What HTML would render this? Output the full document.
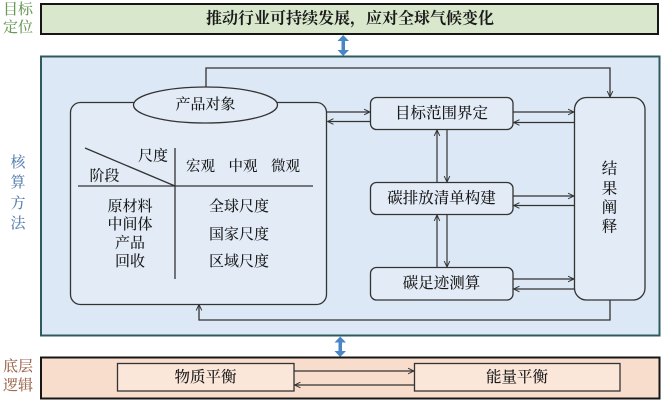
<!DOCTYPE html>
<html><head><meta charset="utf-8"><style>
html,body{margin:0;padding:0;background:#fff;}
svg{display:block;}
text{font-family:"Liberation Serif","Noto Serif CJK SC","Noto Serif CJK JP","Noto Sans CJK SC",serif;dominant-baseline:central;text-anchor:middle;fill:#1a1a1a;font-weight:500;}
</style></head><body>
<svg width="663" height="403" viewBox="0 0 663 403" xmlns="http://www.w3.org/2000/svg">
<defs>
<marker id="a" viewBox="0 0 10 10" refX="9.5" refY="5" markerWidth="7" markerHeight="7" orient="auto" markerUnits="userSpaceOnUse">
<path d="M1,1 L9.5,5 L1,9" fill="none" stroke="#333" stroke-width="1.4"/>
</marker>
</defs>
<!-- top bar -->
<rect x="41" y="4" width="617" height="30" fill="#d9e8cc" stroke="#161616" stroke-width="2"/>
<text x="350" y="19" font-size="16" style="font-weight:bold">推动行业可持续发展，应对全球气候变化</text>
<text x="18" y="10" font-size="15" style="fill:#6a9a58">目标</text>
<text x="18" y="28" font-size="15" style="fill:#6a9a58">定位</text>
<!-- blue double arrow top -->
<g fill="#4a86c5">
<rect x="341.5" y="39" width="3.5" height="13"/>
<path d="M337.5,41 L343.2,35 L349,41 Z"/>
<path d="M337.5,50 L343.2,56 L349,50 Z"/>
</g>
<!-- middle box -->
<rect x="41" y="56.5" width="618.5" height="279" fill="#dce8f5" stroke="#2e5a5e" stroke-width="2"/>
<text x="18" y="163" font-size="15" style="fill:#5a80b0">核</text>
<text x="18" y="183" font-size="15" style="fill:#5a80b0">算</text>
<text x="18" y="204" font-size="15" style="fill:#5a80b0">方</text>
<text x="18" y="224" font-size="15" style="fill:#5a80b0">法</text>

<g stroke="#333" stroke-width="1.3" fill="none">
<path d="M206,87 L206,68 L610,68 L610,97" marker-end="url(#a)"/>
<path d="M610,300 L610,320 L199,320 L199,304.5" marker-end="url(#a)"/>
</g>
<!-- inner product box -->
<rect x="70.5" y="102.5" width="256" height="202" rx="10" fill="#e2ebf6" stroke="#333" stroke-width="1.3"/>
<ellipse cx="205.5" cy="105" rx="72" ry="18" fill="#e2ebf6" stroke="#333" stroke-width="1.3"/>
<text x="205.5" y="105" font-size="15">产品对象</text>
<!-- table -->
<g stroke="#333" stroke-width="1.3">
<line x1="85" y1="148" x2="175" y2="186"/>
<line x1="78" y1="186" x2="313" y2="186"/>
<line x1="175" y1="148" x2="175" y2="279"/>
</g>
<text x="153" y="156.5" font-size="15">尺度</text>
<text x="104.5" y="176.5" font-size="15">阶段</text>
<text x="200.5" y="167" font-size="14.5">宏观</text>
<text x="243" y="167" font-size="14.5">中观</text>
<text x="285.5" y="167" font-size="14.5">微观</text>
<text x="130" y="207" font-size="15">原材料</text>
<text x="130" y="225" font-size="15">中间体</text>
<text x="130" y="243.5" font-size="15">产品</text>
<text x="130" y="262" font-size="15">回收</text>
<text x="239" y="207" font-size="15">全球尺度</text>
<text x="239" y="235" font-size="15">国家尺度</text>
<text x="239" y="262" font-size="15">区域尺度</text>

<!-- process boxes -->
<g fill="#e2ebf6" stroke="#333" stroke-width="1.3">
<rect x="370.5" y="97.5" width="142.5" height="32" rx="6"/>
<rect x="370.5" y="182.5" width="142.5" height="32" rx="6"/>
<rect x="370.5" y="267.5" width="142.5" height="32.5" rx="6"/>
<rect x="574.5" y="97.5" width="70.5" height="202.5" rx="12"/>
</g>
<text x="441.5" y="113.5" font-size="15.5">目标范围界定</text>
<text x="441.5" y="198.5" font-size="15.5">碳排放清单构建</text>
<text x="441.5" y="283.5" font-size="15.5">碳足迹测算</text>
<text x="609.5" y="169" font-size="15.5">结</text>
<text x="609.5" y="189" font-size="15.5">果</text>
<text x="609.5" y="208" font-size="15.5">阐</text>
<text x="609.5" y="227" font-size="15.5">释</text>

<g stroke="#333" stroke-width="1.2" fill="none">
<line x1="327" y1="112" x2="370" y2="112" marker-end="url(#a)"/>
<line x1="370" y1="121.5" x2="327.5" y2="121.5" marker-end="url(#a)"/>
<line x1="513" y1="112" x2="574" y2="112" marker-end="url(#a)"/>
<line x1="574" y1="122.5" x2="513.5" y2="122.5" marker-end="url(#a)"/>
<line x1="513" y1="196" x2="574" y2="196" marker-end="url(#a)"/>
<line x1="574" y1="205.5" x2="513.5" y2="205.5" marker-end="url(#a)"/>
<line x1="513" y1="279" x2="574" y2="279" marker-end="url(#a)"/>
<line x1="574" y1="289" x2="513.5" y2="289" marker-end="url(#a)"/>
<line x1="437" y1="182" x2="437" y2="130" marker-end="url(#a)"/>
<line x1="447" y1="130" x2="447" y2="182" marker-end="url(#a)"/>
<line x1="437" y1="267" x2="437" y2="215" marker-end="url(#a)"/>
<line x1="447" y1="215" x2="447" y2="267" marker-end="url(#a)"/>
</g>

<!-- blue double arrow bottom -->
<g fill="#4a86c5">
<rect x="338.5" y="340" width="3.5" height="13"/>
<path d="M334.5,342.5 L340.2,336.5 L346,342.5 Z"/>
<path d="M334.5,351 L340.2,357 L346,351 Z"/>
</g>

<!-- bottom box -->
<rect x="41" y="357.5" width="618.5" height="41" fill="#f9ddcc" stroke="#161616" stroke-width="2"/>
<text x="18" y="367" font-size="15" style="fill:#a06a50">底层</text>
<text x="18" y="386" font-size="15" style="fill:#a06a50">逻辑</text>
<g fill="#fbe6da" stroke="#333" stroke-width="1.3">
<rect x="117.5" y="363.5" width="176.5" height="27.5"/>
<rect x="414.5" y="363.5" width="205.5" height="27.5"/>
</g>
<text x="205.5" y="377.5" font-size="15.5">物质平衡</text>
<text x="517" y="377.5" font-size="15.5">能量平衡</text>
<g stroke="#333" stroke-width="1.2" fill="none">
<line x1="294" y1="371" x2="414" y2="371" marker-end="url(#a)"/>
<line x1="414" y1="385" x2="294.5" y2="385" marker-end="url(#a)"/>
</g>
</svg>
</body></html>
